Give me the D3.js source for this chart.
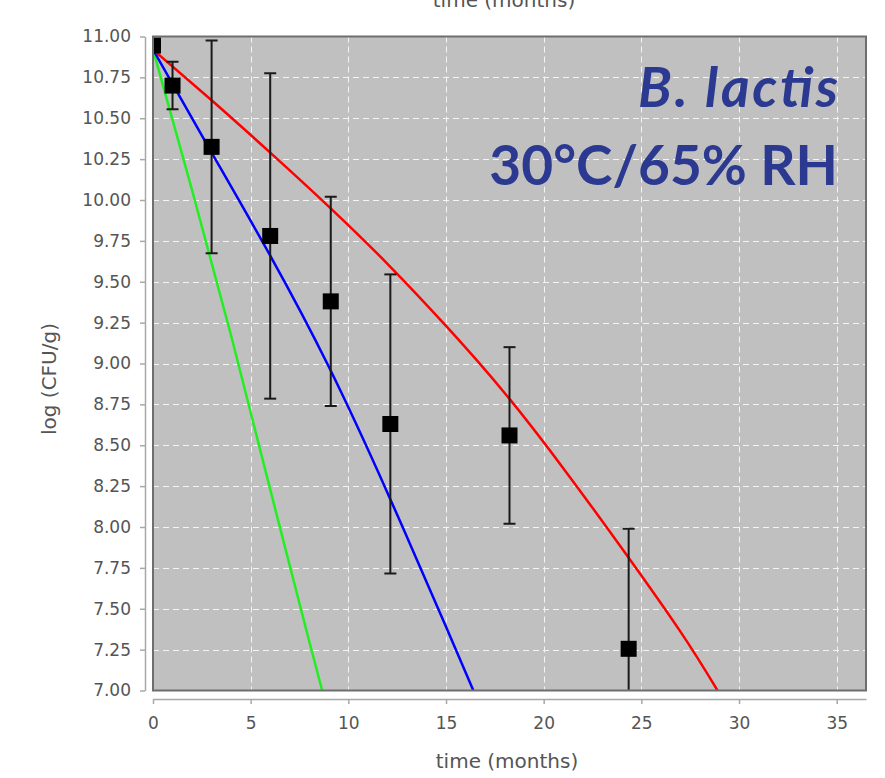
<!DOCTYPE html>
<html>
  <head>
    <meta charset="utf-8" />
    <title>B. lactis 30°C/65% RH</title>
    <style>
      body {
        margin: 0;
        background: #ffffff;
        font-family: 'DejaVu Sans', sans-serif;
      }
      .tick text {
        font-family: 'DejaVu Sans', sans-serif;
        font-size: 17px;
        fill: #555555;
      }
      .axis-label {
        font-family: 'DejaVu Sans', sans-serif;
        font-size: 20px;
        fill: #555555;
      }
      .title {
        font-family: Lato, sans-serif;
        font-weight: bold;
        fill: #2b3990;
      }
    </style>
  </head>
  <body>
    <script src="https://d3js.org/d3.v7.min.js"></script>
    <svg id="chart"></svg>
    <script>
      // measured survival (mean log CFU/g and half error bar)
      var timePoints = [0, 1, 3, 6, 9.1, 12.15, 18.25, 24.35];
      var meanLog = [10.945, 10.70, 10.325, 9.78, 9.38, 8.63, 8.56, 7.255];
      var errLog = [0, 0.145, 0.65, 0.995, 0.64, 0.915, 0.54, 0.735];

      // fitted curves
      var redTime = [0, 3, 6, 9, 12, 15, 18, 21, 24, 27, 28.9];
      var redLog = [10.92, 10.61, 10.29, 9.96, 9.61, 9.23, 8.82, 8.36, 7.87, 7.36, 7.0];
      var blueTime = [0, 1, 3, 6, 9, 12, 15, 16.4];
      var blueLog = [10.92, 10.71, 10.29, 9.66, 8.98, 8.21, 7.39, 7.0];
      var greenTime = [0, 2, 4, 6, 8, 8.66];
      var greenLog = [10.92, 10.06, 9.17, 8.23, 7.3, 7.0];

      var xTicks = [0, 5, 10, 15, 20, 25, 30, 35];
      var yTicks = d3.range(0, 17).map(function (i) { return 7 + i * 0.25; });

      var width = 885;
      var height = 778;
      var plot = { left: 153, top: 36.5, right: 866, bottom: 690.5 };

      var svg = d3.select("#chart")
        .attr("width", width)
        .attr("height", height);

      var x = d3.scaleLinear().domain([0, 36.5]).range([plot.left, plot.right]);
      var y = d3.scaleLinear().domain([7, 11]).range([plot.bottom, plot.top]);

      svg.append("defs").append("clipPath")
        .attr("id", "plotClip")
        .append("rect")
        .attr("x", plot.left)
        .attr("y", plot.top)
        .attr("width", plot.right - plot.left)
        .attr("height", plot.bottom - plot.top);

      // cut-off label of the chart above (the reference crop shows only its lower half)
      svg.append("text")
        .attr("class", "axis-label")
        .attr("x", 504)
        .attr("y", 7)
        .attr("text-anchor", "middle")
        .text("time (months)");

      svg.append("rect")
        .attr("x", plot.left)
        .attr("y", plot.top)
        .attr("width", plot.right - plot.left)
        .attr("height", plot.bottom - plot.top)
        .attr("fill", "#c0c0c0");

      // grid
      svg.append("g")
        .selectAll("line")
        .data(xTicks.slice(1))
        .enter()
        .append("line")
        .attr("x1", function (d) { return Math.round(x(d)) + 0.5; })
        .attr("x2", function (d) { return Math.round(x(d)) + 0.5; })
        .attr("y1", plot.top)
        .attr("y2", plot.bottom)
        .attr("stroke", "#f4f4f4")
        .attr("stroke-width", 1)
        .attr("stroke-dasharray", "6,4");

      svg.append("g")
        .selectAll("line")
        .data(yTicks.slice(1, -1))
        .enter()
        .append("line")
        .attr("x1", plot.left)
        .attr("x2", plot.right)
        .attr("y1", function (d) { return Math.round(y(d)) + 0.5; })
        .attr("y2", function (d) { return Math.round(y(d)) + 0.5; })
        .attr("stroke", "#f4f4f4")
        .attr("stroke-width", 1)
        .attr("stroke-dasharray", "6,4");

      var marks = svg.append("g").attr("clip-path", "url(#plotClip)");

      var line = d3.line()
        .x(function (d) { return x(d[0]); })
        .y(function (d) { return y(d[1]); })
        .curve(d3.curveNatural);

      var curves = [
        { t: greenTime, v: greenLog, color: "#22ee22" },
        { t: blueTime, v: blueLog, color: "#0000ff" },
        { t: redTime, v: redLog, color: "#ff0000" }
      ];

      curves.forEach(function (c) {
        marks.append("path")
          .datum(d3.zip(c.t, c.v))
          .attr("d", line)
          .attr("fill", "none")
          .attr("stroke", c.color)
          .attr("stroke-width", 2.5);
      });

      var points = d3.zip(timePoints, meanLog, errLog);

      // error bars
      var bars = marks.selectAll(".errbar")
        .data(points.filter(function (d) { return d[2] > 0; }))
        .enter()
        .append("g")
        .attr("class", "errbar")
        .attr("stroke", "#1a1a1a")
        .attr("stroke-width", 2);

      bars.append("line")
        .attr("x1", function (d) { return x(d[0]); })
        .attr("x2", function (d) { return x(d[0]); })
        .attr("y1", function (d) { return y(d[1] + d[2]); })
        .attr("y2", function (d) { return y(d[1] - d[2]); });

      bars.append("line")
        .attr("x1", function (d) { return x(d[0]) - 6; })
        .attr("x2", function (d) { return x(d[0]) + 6; })
        .attr("y1", function (d) { return y(d[1] + d[2]); })
        .attr("y2", function (d) { return y(d[1] + d[2]); });

      bars.append("line")
        .attr("x1", function (d) { return x(d[0]) - 6; })
        .attr("x2", function (d) { return x(d[0]) + 6; })
        .attr("y1", function (d) { return y(d[1] - d[2]); })
        .attr("y2", function (d) { return y(d[1] - d[2]); });

      marks.selectAll(".pt")
        .data(points)
        .enter()
        .append("rect")
        .attr("class", "pt")
        .attr("x", function (d) { return x(d[0]) - 8; })
        .attr("y", function (d) { return y(d[1]) - 8; })
        .attr("width", 16)
        .attr("height", 16)
        .attr("fill", "#000000");

      // plot frame
      svg.append("rect")
        .attr("x", plot.left)
        .attr("y", plot.top)
        .attr("width", plot.right - plot.left)
        .attr("height", plot.bottom - plot.top)
        .attr("fill", "none")
        .attr("stroke", "#6e6e6e")
        .attr("stroke-width", 2);

      // axes sit a few pixels off the plot
      var yAxis = svg.append("g")
        .attr("transform", "translate(145,0)")
        .call(d3.axisLeft(y)
          .tickValues(yTicks)
          .tickSize(5)
          .tickSizeOuter(0)
          .tickPadding(9)
          .tickFormat(d3.format(".2f")));

      var xAxis = svg.append("g")
        .attr("transform", "translate(0,699)")
        .call(d3.axisBottom(x)
          .tickValues(xTicks)
          .tickSize(5)
          .tickSizeOuter(0)
          .tickPadding(13));

      [yAxis, xAxis].forEach(function (a) {
        a.select(".domain").attr("stroke", "#a8a8a8").attr("stroke-width", 1.5);
        a.selectAll(".tick line").attr("stroke", "#a8a8a8").attr("stroke-width", 1.5);
      });

      svg.append("text")
        .attr("class", "axis-label")
        .attr("x", 507)
        .attr("y", 768)
        .attr("text-anchor", "middle")
        .text("time (months)");

      svg.append("text")
        .attr("class", "axis-label")
        .attr("transform", "translate(56,379) rotate(-90)")
        .attr("text-anchor", "middle")
        .text("log (CFU/g)");

      svg.append("text")
        .attr("class", "title")
        .attr("x", 838)
        .attr("y", 107)
        .attr("text-anchor", "end")
        .attr("font-size", 55)
        .attr("font-style", "italic")
        .attr("textLength", 200)
        .attr("lengthAdjust", "spacing")
        .text("B. lactis");

      svg.append("text")
        .attr("class", "title")
        .attr("x", 838)
        .attr("y", 185)
        .attr("text-anchor", "end")
        .attr("font-size", 55)
        .text("30°C/65% RH");
    </script>
  </body>
</html>
